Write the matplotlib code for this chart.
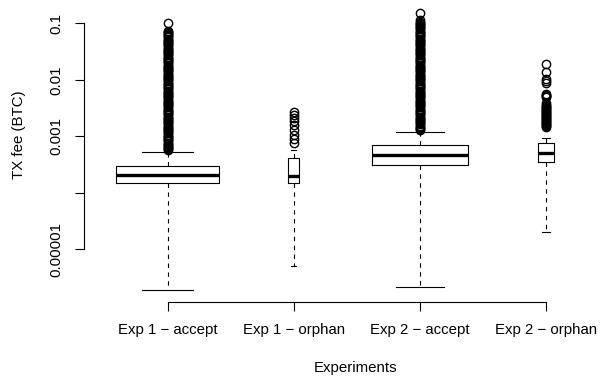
import matplotlib
matplotlib.use("Agg")
import matplotlib.pyplot as plt

plt.rcParams['font.family'] = ['Liberation Sans', 'DejaVu Sans']

# ---- data ----
categories = ["Exp 1 \u2212 accept", "Exp 1 \u2212 orphan", "Exp 2 \u2212 accept", "Exp 2 \u2212 orphan"]
whisker_low = [1.9e-6, 5.06e-6, 2.18e-6, 2.0e-5]
q1 = [1.47e-4, 1.51e-4, 3.10e-4, 3.51e-4]
median = [2.04e-4, 1.98e-4, 4.61e-4, 4.97e-4]
q3 = [2.98e-4, 4.08e-4, 6.93e-4, 7.76e-4]
whisker_high = [5.21e-4, 5.7e-4, 1.20e-3, 9.3e-4]
box_widths = [0.81, 0.083, 0.757, 0.127]

# dense outlier columns, given as log10(fee)
outliers_exp1_accept_log10 = [
    -3.25, -3.23, -3.21, -3.19, -3.17, -3.15, -3.13, -3.11, -3.09, -3.07,
    -3.05, -3.03, -3.01, -2.99, -2.97, -2.95, -2.93, -2.91, -2.89, -2.87,
    -2.85, -2.83, -2.81, -2.79, -2.77, -2.75, -2.73, -2.71, -2.69, -2.67,
    -2.65, -2.63, -2.61, -2.59, -2.57, -2.55, -2.53, -2.51, -2.49, -2.47,
    -2.45, -2.43, -2.41, -2.39, -2.37, -2.35, -2.33, -2.31, -2.29, -2.27,
    -2.25, -2.23, -2.21, -2.19, -2.17, -2.15, -2.13, -2.11, -2.09, -2.07,
    -2.05, -2.03, -2.01, -1.99, -1.97, -1.95, -1.93, -1.91, -1.89, -1.87,
    -1.85, -1.83, -1.81, -1.79, -1.77, -1.75, -1.73, -1.71, -1.69, -1.67,
    -1.65, -1.63, -1.61, -1.59, -1.57, -1.55, -1.53, -1.51, -1.49, -1.47,
    -1.45, -1.43, -1.41, -1.39, -1.37, -1.35, -1.33, -1.31, -1.29, -1.27,
    -1.25, -1.23, -1.21, -1.19, -1.17, -1.15, -1.13, -1.00,
]
outliers_exp2_accept_log10 = [
    -2.89, -2.87, -2.85, -2.83, -2.81, -2.79, -2.77, -2.75, -2.73, -2.71,
    -2.69, -2.67, -2.65, -2.63, -2.61, -2.59, -2.57, -2.55, -2.53, -2.51,
    -2.49, -2.47, -2.45, -2.43, -2.41, -2.39, -2.37, -2.35, -2.33, -2.31,
    -2.29, -2.27, -2.25, -2.23, -2.21, -2.19, -2.17, -2.15, -2.13, -2.11,
    -2.09, -2.07, -2.05, -2.03, -2.01, -1.99, -1.97, -1.95, -1.93, -1.91,
    -1.89, -1.87, -1.85, -1.83, -1.81, -1.79, -1.77, -1.75, -1.73, -1.71,
    -1.69, -1.67, -1.65, -1.63, -1.61, -1.59, -1.57, -1.55, -1.53, -1.51,
    -1.49, -1.47, -1.45, -1.43, -1.41, -1.39, -1.37, -1.35, -1.33, -1.31,
    -1.29, -1.27, -1.25, -1.23, -1.21, -1.19, -1.17, -1.15, -1.13, -1.11,
    -1.09, -1.07, -1.05, -1.03, -1.01, -0.99, -0.97, -0.95, -0.81,
]
outliers_exp1_orphan = [0.00269, 0.00238, 0.00211, 0.00187, 0.00158,
                        0.00129, 0.00105, 0.000895, 0.000760]
outliers_exp2_orphan = [0.0190, 0.01374, 0.01033, 0.00952, 0.00877, 0.00561,
                        0.00544, 0.00527, 0.00510, 0.00496, 0.00388, 0.00358,
                        0.00344, 0.00330, 0.00317, 0.00304, 0.00292, 0.00281,
                        0.00270, 0.00258, 0.00248, 0.00238, 0.00229, 0.00220,
                        0.00211, 0.00202, 0.00194, 0.00187, 0.00179, 0.00172,
                        0.00165, 0.00158, 0.00152, 0.00146]

y_ticks = [1e-1, 1e-2, 1e-3, 1e-4, 1e-5]
y_ticklabels = ["0.1", "0.01", "0.001", "", "0.00001"]

outliers = [[10 ** v for v in outliers_exp1_accept_log10], outliers_exp1_orphan,
            [10 ** v for v in outliers_exp2_accept_log10], outliers_exp2_orphan]

# ---- figure ----
W, H = 607, 376
fig = plt.figure(figsize=(W / 100, H / 100), dpi=100)
left_px, right_px, bottom_px, top_px = 84, 607, 301.7, 0
ax = fig.add_axes([left_px / W, (H - bottom_px) / H,
                   (right_px - left_px) / W, (bottom_px - top_px) / H])

stats = []
for i in range(len(categories)):
    stats.append(dict(whislo=whisker_low[i], q1=q1[i], med=median[i],
                      q3=q3[i], whishi=whisker_high[i], fliers=outliers[i]))

positions = list(range(1, len(categories) + 1))
ax.bxp(stats, positions=positions, widths=box_widths,
       capwidths=[w * 0.5 for w in box_widths],
       showfliers=True, patch_artist=False,
       boxprops=dict(color='black', linewidth=0.8),
       medianprops=dict(color='black', linewidth=2.4, solid_capstyle='butt'),
       whiskerprops=dict(color='black', linewidth=0.8, linestyle=(0, (4, 4))),
       capprops=dict(color='black', linewidth=0.8),
       flierprops=dict(marker='o', markerfacecolor='none', markeredgecolor='black',
                       markersize=6.0, markeredgewidth=1.0))

ax.set_yscale('log')
ax.set_xlim(0.338, 4.483)
ax.set_ylim(10 ** -5.927, 10 ** -0.588)

for s in ['top', 'right']:
    ax.spines[s].set_visible(False)
ax.spines['left'].set_bounds(1e-5, 1e-1)
ax.spines['bottom'].set_bounds(1, 4)
ax.spines['left'].set_linewidth(0.8)
ax.spines['bottom'].set_linewidth(0.8)

ax.set_yticks(y_ticks)
ax.set_yticklabels(y_ticklabels, rotation=90, va='center')
ax.yaxis.set_minor_locator(matplotlib.ticker.NullLocator())
ax.set_xticks(positions)
ax.set_xticklabels(categories)
ax.tick_params(axis='both', direction='out', length=6.5, width=0.8,
               labelsize=10.8, colors='black')
ax.tick_params(axis='y', pad=8)
ax.tick_params(axis='x', pad=9)

fig.text(19 / W, 1 - 135 / H, "TX fee (BTC)", rotation=90, ha='center',
         va='center', fontsize=10.8)
fig.text(355.7 / W, 1 - 368 / H, "Experiments", ha='center', va='center',
         fontsize=10.8)

fig.savefig("out.png", dpi=100)
